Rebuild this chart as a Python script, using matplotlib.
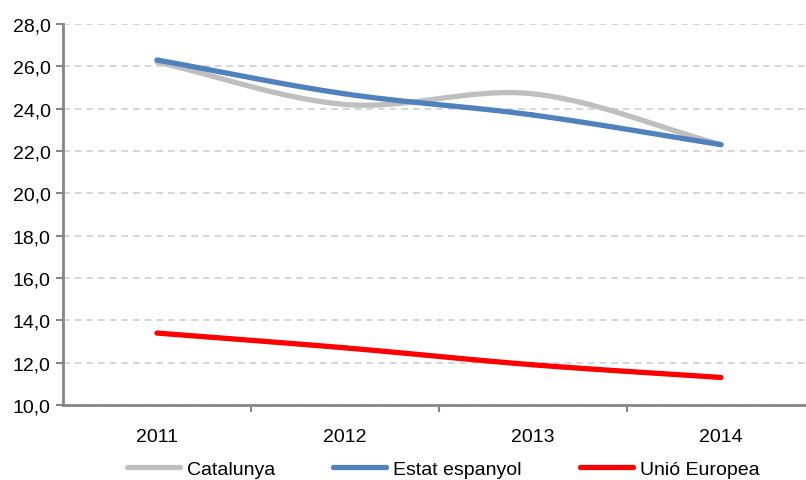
import numpy as np
import matplotlib.pyplot as plt
from matplotlib import font_manager

years = ['2011', '2012', '2013', '2014']
catalunya = [26.2, 24.2, 24.7, 22.3]
estat = [26.3, 24.7, 23.7, 22.3]
ue = [13.4, 12.7, 11.9, 11.3]

names = [f.name for f in font_manager.fontManager.ttflist]
fam = 'Liberation Sans Narrow' if 'Liberation Sans Narrow' in names else 'Liberation Sans'
plt.rcParams['font.family'] = [fam, 'DejaVu Sans']


def smooth(y, n=40):
    # catmull-rom style curve through the points (like Excel's smoothed line)
    y = np.asarray(y, float)
    x = np.arange(len(y), dtype=float)
    px = np.concatenate([[2 * x[0] - x[1]], x, [2 * x[-1] - x[-2]]])
    py = np.concatenate([[2 * y[0] - y[1]], y, [2 * y[-1] - y[-2]]])
    xs, ys = [], []
    t = np.linspace(0, 1, n)
    for i in range(1, len(px) - 2):
        for p, out in ((px, xs), (py, ys)):
            p0, p1, p2, p3 = p[i - 1], p[i], p[i + 1], p[i + 2]
            out.extend(0.5 * (2 * p1 + (-p0 + p2) * t
                              + (2 * p0 - 5 * p1 + 4 * p2 - p3) * t ** 2
                              + (-p0 + 3 * p1 - 3 * p2 + p3) * t ** 3))
    return np.array(xs), np.array(ys)


fig = plt.figure(figsize=(8.06, 4.81), dpi=100)
W, H = 806, 481
ax = fig.add_axes([63 / W, 1 - 406 / H, (815 - 63) / W, (406 - 25) / H])

ax.set_ylim(10, 28)
ax.set_xlim(-0.5, 3.5)
ax.set_yticks(np.arange(10, 28.1, 2))
ax.set_yticklabels([f'{v:.1f}'.replace('.', ',') for v in np.arange(10, 28.1, 2)])
ax.yaxis.grid(True, color='#d0d0d0', linestyle=(0, (4, 3)), linewidth=1.2)
ax.set_axisbelow(True)

lines = []
for data, col, lab in ((catalunya, '#bfbfbf', 'Catalunya'),
                       (estat, '#4f81bd', 'Estat espanyol'),
                       (ue, '#ff0000', 'Unió Europea')):
    xs, ys = smooth(data)
    ln, = ax.plot(xs, ys, color=col, linewidth=3.8, label=lab, solid_capstyle='round')
    lines.append(ln)

ax.set_xticks([0.5, 1.5, 2.5])
ax.set_xticklabels([])
ax.tick_params(axis='x', length=5, color='#868686', width=1.5)
ax.tick_params(axis='y', length=5, color='#868686', width=1.5, labelsize=14, pad=4)
for i, yr in enumerate(years):
    ax.text(i, 10 - 1.1, yr, ha='center', va='top', fontsize=14)

for s in ['top', 'right']:
    ax.spines[s].set_visible(False)
for s in ['left', 'bottom']:
    ax.spines[s].set_color('#868686')
    ax.spines[s].set_linewidth(2)

# one legend entry per position, as in the reference
for ln, x0 in zip(lines, [127, 333, 580]):
    fig.legend([ln], [ln.get_label()], loc='center left',
               bbox_to_anchor=(x0 / W, 1 - 470 / H), frameon=False, fontsize=14,
               borderpad=0, borderaxespad=0, handlelength=2.7, handletextpad=0.4)

fig.savefig('out.png', dpi=100)
